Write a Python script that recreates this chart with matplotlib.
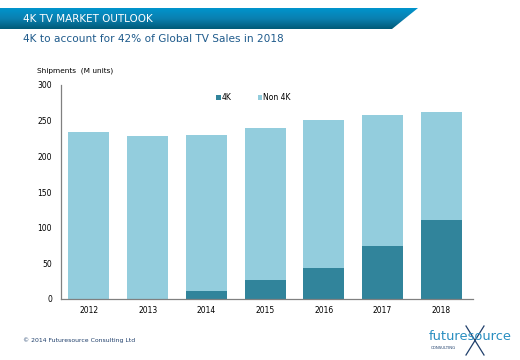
import matplotlib.pyplot as plt
import numpy as np
from matplotlib.patches import Polygon
from matplotlib.colors import LinearSegmentedColormap

years = ['2012', '2013', '2014', '2015', '2016', '2017', '2018']
total = [234, 229, 230, 240, 251, 258, 262]
k4 = [0, 0, 11, 26, 44, 74, 111]
non4k = [t - k for t, k in zip(total, k4)]

W, H = 520, 360
fig = plt.figure(figsize=(W / 100, H / 100), dpi=100)
fig.patch.set_facecolor('white')

def fx(px):
    return px / W

def fy(py):
    return 1 - py / H

# header banner with gradient
bax = fig.add_axes([0, fy(29), fx(420), (29 - 8) / H])
bax.set_xlim(0, 420)
bax.set_ylim(29, 8)
bax.axis('off')
grad = np.linspace(0, 1, 50).reshape(-1, 1)
cmap = LinearSegmentedColormap.from_list('ban', ['#0094cc', '#0a80b0', '#005a78'])
im = bax.imshow(grad, aspect='auto', cmap=cmap, extent=[0, 420, 29, 8])
poly = Polygon([(0, 8), (418, 8), (392, 29), (0, 29)], closed=True,
               transform=bax.transData, facecolor='none', edgecolor='none')
bax.add_patch(poly)
im.set_clip_path(poly)

fig.text(fx(23), fy(19), '4K TV MARKET OUTLOOK', color='white', fontsize=7.5,
         va='center', ha='left')
fig.text(fx(23), fy(39), '4K to account for 42% of Global TV Sales in 2018',
         color='#1f5b8c', fontsize=7.6, va='center', ha='left')

# chart
ax = fig.add_axes([fx(61), fy(299), fx(473) - fx(61), (299 - 85) / H])
x = np.arange(len(years))
w = 0.695
ax.bar(x, k4, w, color='#31849b', label='4K')
ax.bar(x, non4k, w, bottom=k4, color='#93cddd', label='Non 4K')
ax.set_xlim(-0.475, 6.54)
ax.set_ylim(0, 300)
ax.set_yticks(range(0, 301, 50))
ax.set_xticks(x)
ax.set_xticklabels(years)
ax.tick_params(axis='both', length=0, labelsize=5.5, colors='black')
ax.tick_params(axis='y', pad=6.5)
ax.tick_params(axis='x', pad=5)
for s in ['top', 'right']:
    ax.spines[s].set_visible(False)
for s in ['left', 'bottom']:
    ax.spines[s].set_color('#808080')
    ax.spines[s].set_linewidth(0.9)

ax.legend(loc='center left', bbox_to_anchor=(0.377, 0.942), ncol=2, frameon=False,
          fontsize=5.5, handlelength=0.6, handleheight=0.6, handletextpad=0.1,
          columnspacing=3.4, borderpad=0, borderaxespad=0)

fig.text(fx(37), fy(71), 'Shipments  (M units)', fontsize=5.3, va='center', ha='left')

# footer
fig.text(fx(23), fy(340), '\u00a9 2014 Futuresource Consulting Ltd', fontsize=4.4,
         color='#1f3f6b', va='center', ha='left')
fig.text(fx(429), fy(337), 'futuresource', fontsize=9.4, color='#2a8fc1',
         va='center', ha='left')
fig.text(fx(431), fy(348), 'CONSULTING', fontsize=2.8, color='#1f3f6b',
         va='center', ha='left')
fig.add_artist(plt.Line2D([fx(466), fx(484)], [fy(326), fy(355)], color='#1f3f6b', lw=0.9))
fig.add_artist(plt.Line2D([fx(484), fx(466)], [fy(326), fy(355)], color='#1f3f6b', lw=0.9))

fig.savefig('out.png', dpi=100)
